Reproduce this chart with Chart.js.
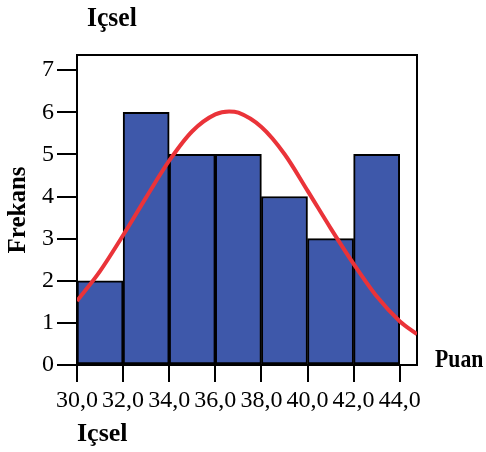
<!DOCTYPE html>
<html>
<head>
<meta charset="utf-8">
<script src="https://cdn.jsdelivr.net/npm/chart.js@4/dist/chart.umd.min.js"></script>
<style>
html,body{margin:0;padding:0;background:#fff;}
#wrap{position:relative;width:486px;height:452px;}
</style>
</head>
<body>
<div id="wrap"><canvas id="c" width="486" height="452"></canvas></div>
<script>
// Histogram bins (centres) and frequencies
const binCenters = [31, 33, 35, 37, 39, 41, 43];
const frequencies = [2, 6, 5, 5, 4, 3, 5];
// Normal curve, values
const curveX = [30, 31, 32, 33, 34, 35, 36, 36.6, 37, 38, 39, 40, 41, 42, 43, 44, 44.75];
const curveY = [1.52, 2.23, 3.08, 3.98, 4.85, 5.55, 5.95, 6.02, 5.99, 5.65, 5.01, 4.14, 3.25, 2.4, 1.63, 1.04, 0.73];
// Tick values / labels
const xTickValues = [30, 32, 34, 36, 38, 40, 42, 44];
const xTickLabels = ["30,0", "32,0", "34,0", "36,0", "38,0", "40,0", "42,0", "44,0"];
const yTickValues = [0, 1, 2, 3, 4, 5, 6, 7];
const yTickLabels = ["0", "1", "2", "3", "4", "5", "6", "7"];
const titleText = "Içsel";
const xAxisTitle = "Içsel";
const yAxisTitle = "Frekans";
const sideLabel = "Puan";

const serif = "'Liberation Serif', 'DejaVu Serif', serif";

const textPlugin = {
  id: 'texts',
  beforeDatasetsDraw(chart) {
    const {ctx, chartArea} = chart;
    ctx.save();
    ctx.strokeStyle = '#000';
    ctx.lineWidth = 2;
    ctx.beginPath();
    ctx.moveTo(chartArea.left, chartArea.top);
    ctx.lineTo(chartArea.right, chartArea.top);
    ctx.lineTo(chartArea.right, chartArea.bottom);
    ctx.stroke();
    ctx.restore();
  },
  afterDraw(chart) {
    const {ctx} = chart;
    ctx.save();
    ctx.fillStyle = '#000';
    ctx.textBaseline = 'alphabetic';
    ctx.textAlign = 'left';
    ctx.save();
    ctx.translate(87, 26);
    ctx.scale(0.95, 1);
    ctx.font = "bold 27px " + serif;
    ctx.fillText(titleText, 0, 0);
    ctx.restore();
    ctx.save();
    ctx.translate(435, 367);
    ctx.scale(0.87, 1);
    ctx.font = "bold 25px " + serif;
    ctx.fillText(sideLabel, 0, 0);
    ctx.restore();
    ctx.restore();
  }
};

new Chart(document.getElementById('c'), {
  type: 'bar',
  data: {
    datasets: [
      {
        type: 'line',
        order: 0,
        data: curveX.map((x, i) => ({x: x, y: curveY[i]})),
        borderColor: '#EA3339',
        borderWidth: 4,
        pointRadius: 0,
        cubicInterpolationMode: 'monotone',
        fill: false
      },
      {
        type: 'bar',
        order: 1,
        data: binCenters.map((x, i) => ({x: x, y: frequencies[i]})),
        backgroundColor: '#3E58AA',
        borderColor: '#000',
        borderWidth: 2,
        borderSkipped: false,
        barPercentage: 1,
        categoryPercentage: 1
      }
    ]
  },
  options: {
    responsive: false,
    animation: false,
    devicePixelRatio: 1,
    layout: {padding: {left: 0, right: 69, top: 55, bottom: 2}},
    plugins: {legend: {display: false}, tooltip: {enabled: false}, title: {display: false}},
    scales: {
      x: {
        type: 'linear',
        min: 30,
        max: 44.75,
        offset: false,
        afterBuildTicks(scale) { scale.ticks = xTickValues.map(v => ({value: v})); },
        afterFit(scale) { scale.height = 85; },
        ticks: {
          color: '#000',
          font: {family: serif, size: 24},
          padding: 4,
          maxRotation: 0,
          autoSkip: false,
          callback(v) { const i = xTickValues.indexOf(v); return i >= 0 ? xTickLabels[i] : ''; }
        },
        grid: {display: true, drawOnChartArea: false, drawTicks: true, tickLength: 17, color: '#000', lineWidth: 2, offset: false},
        border: {display: true, color: '#000', width: 2},
        title: {display: true, text: xAxisTitle, align: 'start', color: '#000', font: {family: serif, size: 26, weight: 'bold'}, padding: 0}
      },
      y: {
        type: 'linear',
        min: 0,
        max: 7.36,
        afterBuildTicks(scale) { scale.ticks = yTickValues.map(v => ({value: v})); },
        afterFit(scale) { scale.width = 77; },
        ticks: {
          color: '#000',
          font: {family: serif, size: 24},
          padding: 3,
          callback(v) { const i = yTickValues.indexOf(v); return i >= 0 ? yTickLabels[i] : ''; }
        },
        grid: {display: true, drawOnChartArea: false, drawTicks: true, tickLength: 20, color: '#000', lineWidth: 2},
        border: {display: true, color: '#000', width: 2},
        title: {display: true, text: yAxisTitle, color: '#000', font: {family: serif, size: 25, weight: 'bold'}, padding: {top: 4, bottom: 0}}
      }
    }
  },
  plugins: [textPlugin]
});
</script>
</body>
</html>
